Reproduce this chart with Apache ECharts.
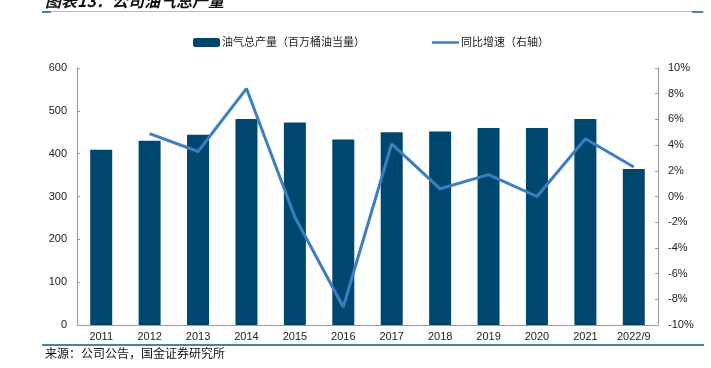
<!DOCTYPE html>
<html>
<head>
<meta charset="utf-8">
<script src="https://cdn.jsdelivr.net/npm/echarts@6/dist/echarts.min.js"></script>
<style>
html,body{margin:0;padding:0;background:#fff;}
#main{width:711px;height:368px;}
</style>
</head>
<body>
<div id="main"></div>
<script>
var years = ['2011','2012','2013','2014','2015','2016','2017','2018','2019','2020','2021','2022/9'];
var output = [409, 430, 444, 481, 473, 433, 450, 452, 460, 460, 481, 364];
var growth = [null, 4.9, 3.5, 8.4, -1.6, -8.6, 4.1, 0.6, 1.7, 0.0, 4.5, 2.3];

var myChart = echarts.init(document.getElementById('main'));
var font = '"Liberation Sans", Arial, "Noto Sans CJK SC", sans-serif';
var axisGray = '#9a9a9a';

var option = {
	animation: false,
	textStyle: {fontFamily: font},
	grid: {left: 77, right: 53, top: 68, bottom: 43},
	legend: [{
		left: 193, top: 37, padding: 0, itemGap: 0,
		itemWidth: 27, itemHeight: 9,
		textStyle: {fontSize: 11, color: '#222', fontFamily: font, padding: [0, 0, 0, -3]},
		data: ['油气总产量（百万桶油当量）']
	}, {
		left: 432, top: 37, padding: 0,
		itemWidth: 27, itemHeight: 9,
		textStyle: {fontSize: 11, color: '#222', fontFamily: font, padding: [0, 0, 0, -3]},
		data: [{name: '同比增速（右轴）', icon: 'path://M0,4 L27,4 L27,6.5 L0,6.5 Z'}]
	}],
	xAxis: {
		type: 'category',
		data: years,
		axisLine: {lineStyle: {color: axisGray}},
		axisTick: {inside: true, length: 3, lineStyle: {color: axisGray}},
		axisLabel: {color: '#222', fontSize: 11, margin: 6}
	},
	yAxis: [{
		type: 'value', min: 0, max: 600, interval: 100,
		axisLine: {show: true, lineStyle: {color: axisGray}},
		axisTick: {show: true, inside: true, length: 3, lineStyle: {color: axisGray}},
		axisLabel: {color: '#222', fontSize: 11, margin: 10},
		splitLine: {show: false}
	}, {
		type: 'value', min: -10, max: 10, interval: 2,
		axisLine: {show: true, lineStyle: {color: axisGray}},
		axisTick: {show: true, inside: true, length: 3, lineStyle: {color: axisGray}},
		axisLabel: {color: '#222', fontSize: 11, margin: 10, formatter: '{value}%'},
		splitLine: {show: false}
	}],
	series: [{
		name: '油气总产量（百万桶油当量）',
		type: 'bar',
		data: output,
		barWidth: 22,
		itemStyle: {color: '#00476f'}
	}, {
		name: '同比增速（右轴）',
		type: 'line',
		yAxisIndex: 1,
		data: growth,
		symbol: 'none',
		lineStyle: {color: '#3c7ec2', width: 3},
		itemStyle: {color: '#3c7ec2'}
	}],
	graphic: [
		{type: 'text', left: 45, top: -7, style: {text: '图表13：公司油气总产量', font: 'italic bold 16px "Noto Sans CJK SC"', fill: '#111'}},
		{type: 'rect', shape: {x: 42, y: 11, width: 662, height: 1}, style: {fill: '#a8bec8'}},
		{type: 'rect', shape: {x: 42, y: 11, width: 9, height: 2}, style: {fill: '#4a86a8'}},
		{type: 'rect', shape: {x: 692, y: 11, width: 11, height: 2}, style: {fill: '#4a86a8'}},
		{type: 'rect', shape: {x: 42, y: 344, width: 662, height: 2}, style: {fill: '#4b82a4'}},
		{type: 'text', left: 45, top: 347, style: {text: '来源：公司公告，国金证券研究所', font: '12px "Noto Sans CJK SC"', fill: '#111'}}
	]
};
myChart.setOption(option);
</script>
</body>
</html>
